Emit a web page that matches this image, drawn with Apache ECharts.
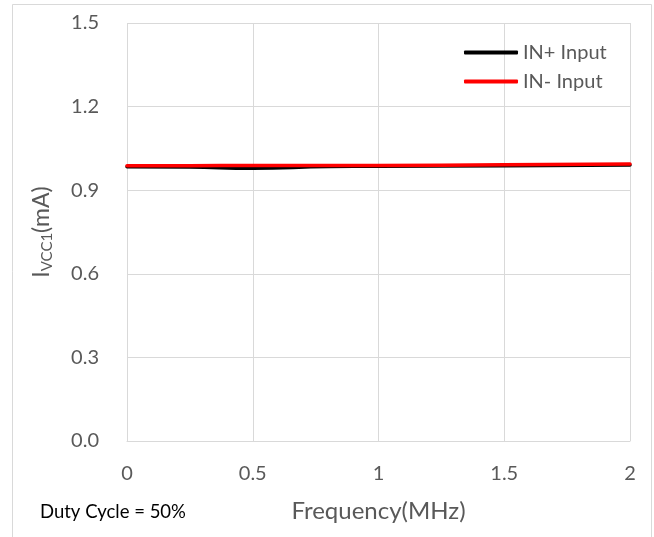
<!DOCTYPE html>
<html>
<head>
<meta charset="utf-8">
<script src="https://cdn.jsdelivr.net/npm/echarts@6/dist/echarts.min.js"></script>
<style>
  html, body { margin: 0; padding: 0; background: #fff; }
  #chart { width: 654px; height: 537px; }
</style>
</head>
<body>
<div id="chart"></div>
<script>
// Supply current vs. switching frequency
const freqMHz = [0, 0.25, 0.5, 0.8, 1.0, 1.5, 2.0];
const inPlus  = [0.984, 0.983, 0.979, 0.985, 0.986, 0.988, 0.990];
const inMinus = [0.988, 0.988, 0.989, 0.989, 0.989, 0.991, 0.994];
const seriesNames = ['IN+ Input', 'IN- Input'];
const xTicks = [0, 0.5, 1, 1.5, 2];
const yTicks = [0.0, 0.3, 0.6, 0.9, 1.2, 1.5];

const FONT = 'Lato, "Open Sans", sans-serif';
const GREY = '#595959';
const pairs = (xs, ys) => xs.map((x, i) => [x, ys[i]]);

const chart = echarts.init(document.getElementById('chart'));
chart.setOption({
  animation: false,
  backgroundColor: '#fff',
  grid: { left: 127, right: 24, top: 23, bottom: 96, containLabel: false },
  legend: {
    left: 459, top: 37, orient: 'vertical', itemGap: 8,
    itemWidth: 54, itemHeight: 4,
    icon: 'roundRect',
    textStyle: { color: GREY, fontSize: 20, lineHeight: 21, fontFamily: FONT, padding: [0, 0, 0, 0] },
    data: seriesNames
  },
  xAxis: {
    type: 'value', min: xTicks[0], max: xTicks[xTicks.length - 1], interval: 0.5,
    axisLine: { show: true, lineStyle: { color: '#d9d9d9', width: 1 } },
    axisTick: { show: false },
    splitLine: { show: true, lineStyle: { color: '#d9d9d9', width: 1 } },
    axisLabel: { color: GREY, fontSize: 20, fontFamily: FONT, margin: 23,
                 formatter: v => String(v) },
    name: 'Frequency(MHz)', nameLocation: 'middle', nameGap: 58,
    nameTextStyle: { color: GREY, fontSize: 24, fontFamily: FONT }
  },
  yAxis: {
    type: 'value', min: yTicks[0], max: yTicks[yTicks.length - 1], interval: 0.3,
    axisLine: { show: false },
    axisTick: { show: false },
    splitLine: { show: true, lineStyle: { color: '#d9d9d9', width: 1 } },
    axisLabel: { color: GREY, fontSize: 20, fontFamily: FONT, margin: 28,
                 formatter: v => v.toFixed(1) },
    name: '{m|I}{s|VCC1}{m|(mA)}', nameLocation: 'middle', nameGap: 72, nameRotate: 90,
    nameTextStyle: {
      rich: {
        m: { color: GREY, fontSize: 23, fontFamily: FONT },
        s: { color: GREY, fontSize: 15, fontFamily: FONT, padding: [11, 0, 0, 0] }
      }
    }
  },
  graphic: [
    { type: 'rect', z: -1, shape: { x: 12.5, y: 4.5, width: 639, height: 540 },
      style: { fill: 'none', stroke: '#d9d9d9', lineWidth: 1 } },
    { type: 'text', x: 40, y: 512,
      style: { text: 'Duty Cycle = 50%', fill: '#000', fontSize: 18.5, fontFamily: FONT,
               textVerticalAlign: 'middle' } }
  ],
  series: [
    { name: seriesNames[0], type: 'line', smooth: true, showSymbol: false,
      data: pairs(freqMHz, inPlus), color: '#000',
      lineStyle: { color: '#000', width: 3.5, cap: 'round' } },
    { name: seriesNames[1], type: 'line', smooth: true, showSymbol: false,
      data: pairs(freqMHz, inMinus), color: '#ff0000',
      lineStyle: { color: '#ff0000', width: 3.5, cap: 'round' } }
  ]
});
</script>
</body>
</html>
